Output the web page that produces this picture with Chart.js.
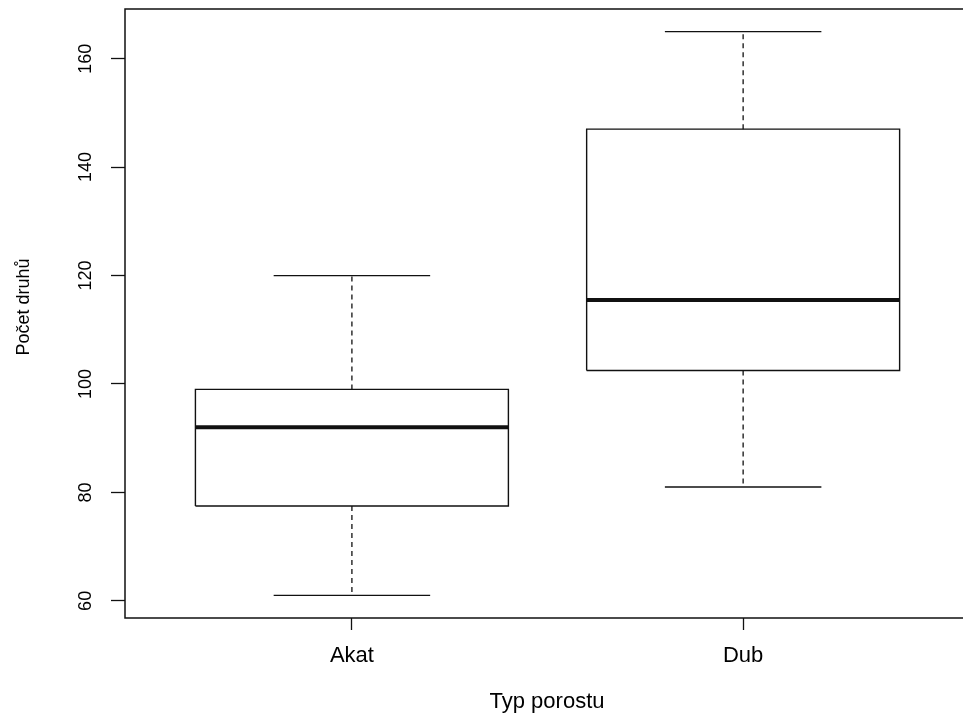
<!DOCTYPE html>
<html>
<head>
<meta charset="utf-8">
<script src="https://cdn.jsdelivr.net/npm/chart.js@4.4.1/dist/chart.umd.min.js"></script>
<style>
    body { margin: 0; background: #fff; }
    #wrap { width: 963px; height: 713px; }
</style>
</head>
<body>
<div id="wrap"><canvas id="myChart" width="963" height="713"></canvas></div>
<script>
const categories = ['Akat', 'Dub'];
const whiskerLow = [61, 81];
const lowerQuartile = [77.5, 102.5];
const medians = [92, 115.5];
const upperQuartile = [99, 147];
const whiskerHigh = [120, 165];
const yTicks = [60, 80, 100, 120, 140, 160];

const xTitle = 'Typ porostu';
const yTitle = 'Počet druhů';
const fontName = '"Liberation Sans", Arial, sans-serif';

// R-like axis limits: data range stretched by 4% each side
const dataMin = Math.min(...whiskerLow);
const dataMax = Math.max(...whiskerHigh);
const pad = (dataMax - dataMin) * 0.04;

const boxHalf = 0.4;
const capHalf = 0.2;

function line(points, width, dash) {
    return {
        data: points,
        showLine: true,
        borderColor: '#111',
        borderWidth: width,
        borderDash: dash || [],
        pointRadius: 0,
        fill: false,
        tension: 0
    };
}

const datasets = [];
categories.forEach((name, i) => {
    const c = i + 1;
    // whiskers (dashed)
    datasets.push(line([{ x: c, y: upperQuartile[i] }, { x: c, y: whiskerHigh[i] }], 1.3, [5, 4]));
    datasets.push(line([{ x: c, y: lowerQuartile[i] }, { x: c, y: whiskerLow[i] }], 1.3, [5, 4]));
    // staples
    datasets.push(line([{ x: c - capHalf, y: whiskerHigh[i] }, { x: c + capHalf, y: whiskerHigh[i] }], 1.3));
    datasets.push(line([{ x: c - capHalf, y: whiskerLow[i] }, { x: c + capHalf, y: whiskerLow[i] }], 1.3));
    // box
    datasets.push(line([
        { x: c - boxHalf, y: lowerQuartile[i] },
        { x: c + boxHalf, y: lowerQuartile[i] },
        { x: c + boxHalf, y: upperQuartile[i] },
        { x: c - boxHalf, y: upperQuartile[i] },
        { x: c - boxHalf, y: lowerQuartile[i] }
    ], 1.4));
    // median
    datasets.push(line([{ x: c - boxHalf, y: medians[i] }, { x: c + boxHalf, y: medians[i] }], 4));
});

const framePlugin = {
    id: 'frame',
    afterDraw(chart) {
        const ctx = chart.ctx;
        const a = chart.chartArea;
        const yScale = chart.scales.y;
        ctx.save();
        ctx.strokeStyle = '#111';
        ctx.lineWidth = 1.5;
        ctx.beginPath();
        ctx.moveTo(a.right + 5, a.top);
        ctx.lineTo(a.left, a.top);
        ctx.lineTo(a.left, a.bottom);
        ctx.lineTo(a.right + 5, a.bottom);
        ctx.stroke();

        ctx.fillStyle = '#000';
        // y tick labels, rotated like R
        ctx.font = '18px ' + fontName;
        ctx.textAlign = 'center';
        ctx.textBaseline = 'alphabetic';
        yTicks.forEach(v => {
            const py = yScale.getPixelForValue(v);
            ctx.save();
            ctx.translate(91, py);
            ctx.rotate(-Math.PI / 2);
            ctx.fillText(String(v), 0, 0);
            ctx.restore();
        });

        // axis titles
        ctx.save();
        ctx.translate(29, 307);
        ctx.rotate(-Math.PI / 2);
        ctx.fillText(yTitle, 0, 0);
        ctx.restore();

        ctx.font = '22px ' + fontName;
        ctx.fillText(xTitle, 547, 708);
        ctx.restore();
    }
};

const ctx = document.getElementById('myChart').getContext('2d');
const myChart = new Chart(ctx, {
    type: 'scatter',
    data: { datasets: datasets },
    plugins: [framePlugin],
    options: {
        responsive: false,
        animation: false,
        layout: { padding: { top: 9, right: 0, left: 0, bottom: 0 } },
        plugins: {
            legend: { display: false },
            tooltip: { enabled: false }
        },
        scales: {
            x: {
                type: 'linear',
                min: 0.42,
                max: 2.562,
                afterBuildTicks: scale => {
                    scale.ticks = categories.map((n, i) => ({ value: i + 1 }));
                },
                afterFit: scale => { scale.height = 95; },
                border: { display: false },
                grid: {
                    drawOnChartArea: false,
                    tickLength: 12,
                    tickColor: '#111',
                    tickWidth: 1.3
                },
                ticks: {
                    color: '#000',
                    padding: 13,
                    maxRotation: 0,
                    font: { family: fontName, size: 22 },
                    callback: value => categories[value - 1]
                }
            },
            y: {
                type: 'linear',
                min: dataMin - pad,
                max: dataMax + pad,
                afterBuildTicks: scale => {
                    scale.ticks = yTicks.map(v => ({ value: v }));
                },
                afterFit: scale => { scale.width = 125; },
                border: { display: false },
                grid: {
                    drawOnChartArea: false,
                    tickLength: 14,
                    tickColor: '#111',
                    tickWidth: 1.3
                },
                ticks: { display: false }
            }
        }
    }
});
</script>
</body>
</html>
